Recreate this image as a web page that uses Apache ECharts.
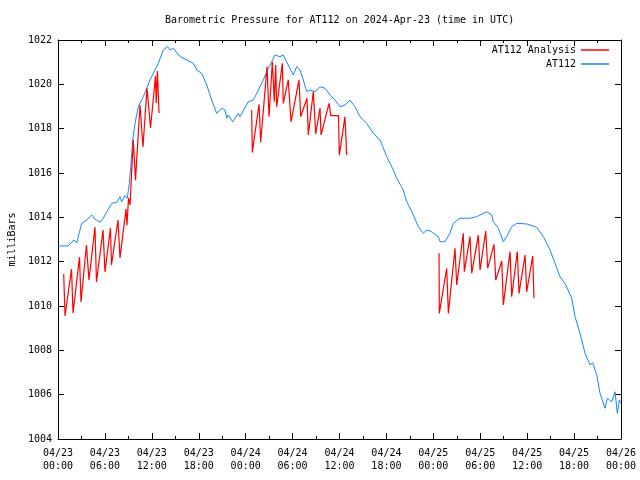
<!DOCTYPE html>
<html>
<head>
<meta charset="utf-8">
<script src="https://cdn.jsdelivr.net/npm/echarts@6/dist/echarts.min.js"></script>
<style>
html,body{margin:0;padding:0;background:#fff;}
#chart{width:640px;height:480px;}
</style>
</head>
<body>
<div id="chart"></div>
<script>
// Hours since 2024-04-23 00:00 UTC
const xTickLabels = ['04/23\n00:00','04/23\n06:00','04/23\n12:00','04/23\n18:00','04/24\n00:00','04/24\n06:00','04/24\n12:00','04/24\n18:00','04/25\n00:00','04/25\n06:00','04/25\n12:00','04/25\n18:00','04/26\n00:00'];

// AT112 observed pressure (mb)
const obsHours = [0,1.28,1.75,2.05,2.39,2.56,3.03,3.67,4.31,4.73,5.37,5.79,6.23,6.87,7.51,7.93,8.15,8.57,8.86,9.12,9.30,9.55,9.85,10.27,10.91,11.77,12.41,12.83,13.47,14.03,14.32,14.75,15.60,16.46,17.30,17.74,18.38,19.02,19.66,20.30,20.94,21.36,21.58,21.78,22.34,23.06,23.28,24.34,24.98,25.62,26.26,26.69,27.33,27.75,28.39,28.81,29.45,30.09,30.53,30.95,31.37,31.81,32.23,32.87,33.51,34.15,34.79,35.43,36.07,36.71,37.34,37.98,38.62,39.48,40.32,41.18,42.04,42.88,43.32,44.16,44.60,45.44,46.08,46.72,47.19,47.79,48.64,48.86,49.49,49.71,50.13,50.56,51.41,52.69,53.55,54.83,55.47,55.67,56.31,56.95,57.39,58.02,58.66,59.94,61.22,62.07,62.92,63.56,64.20,64.84,65.70,66.12,66.76,67.40,68.04,68.38,68.90,69.32,69.96,70.25,70.81,71.24,71.36,71.53,71.79,71.94];
const obsPressure = [1012.71,1012.71,1012.87,1012.98,1012.84,1012.93,1013.73,1013.88,1014.11,1013.91,1013.78,1013.96,1014.25,1014.63,1014.68,1014.93,1014.71,1014.98,1014.86,1015.54,1016.28,1017.49,1018.24,1018.99,1019.44,1020.20,1020.65,1020.95,1021.55,1021.70,1021.55,1021.63,1021.25,1021.10,1020.95,1020.65,1020.50,1019.97,1019.29,1018.69,1018.92,1018.84,1018.47,1018.62,1018.31,1018.69,1018.54,1019.22,1019.29,1019.74,1020.20,1020.57,1021.02,1021.32,1021.25,1021.32,1020.87,1020.42,1020.80,1020.65,1020.20,1019.67,1019.74,1019.67,1019.89,1019.82,1019.52,1019.29,1018.99,1019.07,1019.29,1018.99,1018.54,1018.24,1017.79,1017.49,1016.74,1016.14,1015.76,1015.23,1014.71,1014.11,1013.58,1013.28,1013.43,1013.35,1013.13,1012.90,1012.90,1012.83,1013.28,1013.73,1013.96,1013.96,1014.03,1014.25,1014.11,1013.80,1013.51,1012.90,1013.13,1013.58,1013.73,1013.70,1013.55,1013.13,1012.53,1011.93,1011.32,1011.02,1010.35,1009.52,1008.77,1007.87,1007.34,1007.44,1006.89,1006.06,1005.39,1005.84,1005.68,1006.13,1006.21,1005.16,1005.76,1005.62];

// AT112 Analysis (three runs)
const anaHours1 = [0.73,0.90,1.73,1.92,2.75,2.94,3.64,3.96,4.73,4.92,5.76,6.01,6.71,6.84,7.67,7.93,8.70,8.82,9.02,9.21,9.63,9.91,10.49,10.87,11.38,11.83,12.47,12.56,12.72,12.92];
const anaPressure1 = [1011.44,1009.55,1011.67,1009.68,1012.21,1010.18,1012.75,1011.17,1013.56,1011.08,1013.43,1011.53,1013.52,1011.85,1013.88,1012.17,1014.38,1013.65,1014.87,1014.56,1017.49,1015.68,1019.07,1017.17,1019.83,1018.03,1020.38,1019.16,1020.60,1018.71];
const anaHours2 = [24.77,24.85,25.71,25.92,26.73,26.99,27.41,27.66,27.84,27.97,28.69,28.81,29.45,29.80,30.82,31.04,31.84,32.01,32.65,32.96,33.51,33.64,34.66,34.88,35.87,35.98,36.70,36.92];
const anaPressure2 = [1018.84,1016.93,1019.10,1017.39,1020.80,1018.54,1021.02,1019.22,1020.87,1018.99,1020.95,1019.14,1020.20,1018.31,1020.20,1018.54,1019.38,1017.71,1019.67,1017.76,1018.93,1017.71,1019.14,1018.59,1018.59,1016.81,1018.54,1016.81];
const anaHours3 = [48.73,48.76,49.71,49.92,50.77,50.99,51.83,51.96,52.69,52.91,53.75,53.97,54.70,54.95,55.76,55.98,56.75,56.95,57.81,58.02,58.74,58.96,59.73,59.94,60.71,60.87];
const anaPressure3 = [1012.38,1009.67,1011.70,1009.67,1012.60,1010.95,1013.28,1011.55,1013.13,1011.48,1013.20,1011.62,1013.38,1011.70,1012.78,1011.17,1012.03,1010.05,1012.45,1010.42,1012.45,1010.57,1012.30,1010.64,1012.26,1010.35];

const zip = (a, b) => a.map((v, i) => [v, b[i]]);
const FONT = 'DejaVu Sans Mono';
const RED = '#ff0000';
const BLUE = '#1585ff';

const chart = echarts.init(document.getElementById('chart'), null, {renderer: 'canvas'});

const axisCommon = {
  axisLine: {show: true, onZero: false, lineStyle: {color: '#000', width: 1}},
  splitLine: {show: false}
};

const redSeries = (data) => ({
  name: 'AT112 Analysis', type: 'line', data: data, showSymbol: false, symbol: 'none',
  lineStyle: {color: RED, width: 1.2}, itemStyle: {color: RED}, z: 3
});

const legendCommon = {
  align: 'right', orient: 'vertical', icon: 'rect', itemWidth: 28, itemHeight: 1.5,
  textStyle: {fontFamily: FONT, fontSize: 10, color: '#000'}, selectedMode: false
};

chart.setOption({
  animation: false,
  backgroundColor: '#fff',
  title: {
    text: 'Barometric Pressure for AT112 on 2024-Apr-23 (time in UTC)',
    left: 160, top: 10,
    textStyle: {fontFamily: FONT, fontSize: 10, fontWeight: 'normal', color: '#000'}
  },
  legend: [
    Object.assign({data: ['AT112 Analysis'], right: 26, top: 40}, legendCommon),
    Object.assign({data: ['AT112'], right: 26, top: 54}, legendCommon)
  ],
  grid: {left: 58, right: 19, top: 40, bottom: 41, containLabel: false, outerBoundsMode: 'none'},
  xAxis: [
    Object.assign({
      type: 'value', min: 0, max: 72, interval: 6, position: 'bottom',
      axisTick: {show: true, inside: true, length: 6, lineStyle: {color: '#000'}},
      minorTick: {show: true, splitNumber: 2, length: 3, lineStyle: {color: '#000'}},
      axisLabel: {
        fontFamily: FONT, fontSize: 10, color: '#000', lineHeight: 13, margin: 8,
        formatter: (v) => xTickLabels[Math.round(v / 6)]
      }
    }, axisCommon),
    Object.assign({
      type: 'value', min: 0, max: 72, interval: 6, position: 'top',
      axisTick: {show: true, inside: true, length: 6, lineStyle: {color: '#000'}},
      minorTick: {show: true, splitNumber: 2, length: 3, lineStyle: {color: '#000'}},
      axisLabel: {show: false}
    }, axisCommon)
  ],
  yAxis: [
    Object.assign({
      type: 'value', min: 1004, max: 1022, interval: 2, position: 'left',
      name: 'milliBars', nameLocation: 'middle', nameRotate: 90, nameGap: 40,
      nameTextStyle: {fontFamily: FONT, fontSize: 10, color: '#000'},
      axisTick: {show: true, inside: true, length: 6, lineStyle: {color: '#000'}},
      axisLabel: {fontFamily: FONT, fontSize: 10, color: '#000', margin: 6, formatter: (v) => String(v)}
    }, axisCommon),
    Object.assign({
      type: 'value', min: 1004, max: 1022, interval: 2, position: 'right',
      axisTick: {show: true, inside: true, length: 6, lineStyle: {color: '#000'}},
      axisLabel: {show: false}
    }, axisCommon)
  ],
  series: [
    redSeries(zip(anaHours1, anaPressure1)),
    redSeries(zip(anaHours2, anaPressure2)),
    redSeries(zip(anaHours3, anaPressure3)),
    {
      name: 'AT112', type: 'line', data: zip(obsHours, obsPressure), showSymbol: false, symbol: 'none',
      lineStyle: {color: BLUE, width: 1}, itemStyle: {color: BLUE}, z: 2
    }
  ]
});
</script>
</body>
</html>
